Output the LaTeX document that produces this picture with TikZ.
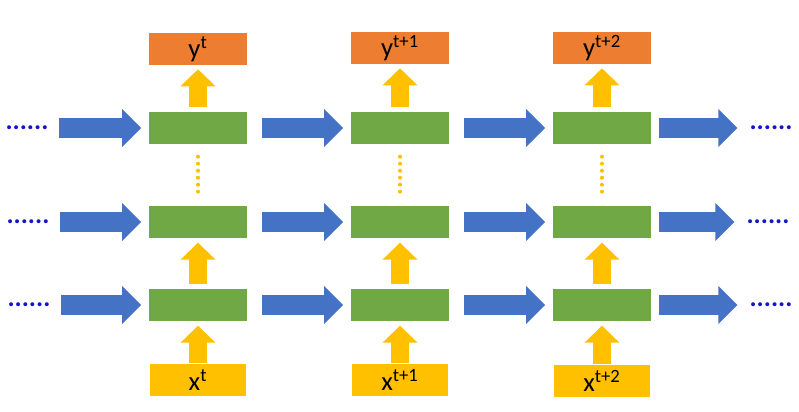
\documentclass[tikz,border=0pt]{standalone}
\usepackage{fontspec}
\setmainfont{Carlito}
\usepackage{tikz}
\usetikzlibrary{arrows.meta, positioning}
\definecolor{cellgreen}{RGB}{112, 168, 70}
\definecolor{outorange}{RGB}{237, 125, 49}
\definecolor{ingold}{RGB}{255, 192, 0}
\definecolor{flowblue}{RGB}{68, 114, 196}
\definecolor{dotblue}{RGB}{20, 20, 200}

\begin{document}
\begin{tikzpicture}[
  x=0.025cm, y=-0.025cm,
  cellbox/.style={fill=cellgreen, minimum width=2.43cm, minimum height=0.82cm, inner sep=0pt},
  outbox/.style={fill=outorange, minimum width=2.43cm, minimum height=0.8cm, inner sep=0pt, font=\fontsize{19}{19}\selectfont},
  inbox/.style={fill=ingold, minimum width=2.38cm, minimum height=0.78cm, inner sep=0pt, font=\fontsize{19}{19}\selectfont},
  dots/.style={text=dotblue, inner sep=0pt, font=\fontsize{19}{19}\selectfont\bfseries},
  flow/.style={draw=flowblue, line width=0.5cm, -{Triangle[length=0.475cm, width=0.925cm]}, shorten <=0.38cm, shorten >=0.2cm},
  lift/.style={draw=ingold, line width=0.45cm, -{Triangle[length=0.425cm, width=0.85cm]}, shorten <=0.1cm, shorten >=0.1cm},
  vdots/.style={draw=ingold, line width=0.1cm, line cap=round, dash pattern=on 0pt off 0.175cm, shorten <=0.3cm, shorten >=0.3cm}
]
  \useasboundingbox (0,0) rectangle (799,412);

  % Outputs
  \node[outbox] (y1) at (198, 49) {y\textsuperscript{t}};
  \node[outbox] (y2) at (400, 48) {y\textsuperscript{t+1}};
  \node[outbox] (y3) at (602, 48) {y\textsuperscript{t+2}};

  % Cells
  \node[cellbox] (c11) at (198, 128) {};
  \node[cellbox] (c21) at (400, 128) {};
  \node[cellbox] (c31) at (602, 128) {};
  \node[cellbox] (c12) at (198, 222) {};
  \node[cellbox] (c22) at (400, 222) {};
  \node[cellbox] (c32) at (602, 222) {};
  \node[cellbox] (c13) at (198, 305) {};
  \node[cellbox] (c23) at (400, 305) {};
  \node[cellbox] (c33) at (602, 305) {};

  % Inputs
  \node[inbox] (x1) at (198, 380) {x\textsuperscript{t}};
  \node[inbox] (x2) at (400, 380) {x\textsuperscript{t+1}};
  \node[inbox] (x3) at (602, 381) {x\textsuperscript{t+2}};

  % Continuation dots
  \node[dots] (l1) at (27, 128) {......};
  \node[dots] (l2) at (28, 222) {......};
  \node[dots] (l3) at (29, 305) {......};
  \node[dots] (r1) at (771, 128) {......};
  \node[dots] (r2) at (768, 222) {......};
  \node[dots] (r3) at (771, 305) {......};

  % Flow along rows
  \draw[flow, shorten <=0.27cm] (l1.east) -- (c11.west);
  \draw[flow] (c11.east) -- (c21.west);
  \draw[flow] (c21.east) -- (c31.west);
  \draw[flow, shorten <=0.2cm, shorten >=0.3cm] (c31.east) -- (r1.west);
  \draw[flow, shorten <=0.27cm] (l2.east) -- (c12.west);
  \draw[flow] (c12.east) -- (c22.west);
  \draw[flow] (c22.east) -- (c32.west);
  \draw[flow, shorten <=0.2cm, shorten >=0.3cm] (c32.east) -- (r2.west);
  \draw[flow, shorten <=0.27cm] (l3.east) -- (c13.west);
  \draw[flow] (c13.east) -- (c23.west);
  \draw[flow] (c23.east) -- (c33.west);
  \draw[flow, shorten <=0.2cm, shorten >=0.3cm] (c33.east) -- (r3.west);

  % Up arrows
  \draw[lift] (c11.north) -- (y1.south);
  \draw[lift] (c21.north) -- (y2.south);
  \draw[lift] (c31.north) -- (y3.south);
  \draw[lift] (c13.north) -- (c12.south);
  \draw[lift] (c23.north) -- (c22.south);
  \draw[lift] (c33.north) -- (c32.south);
  \draw[lift, shorten <=0.03cm] (x1.north) -- (c13.south);
  \draw[lift, shorten <=0.03cm] (x2.north) -- (c23.south);
  \draw[lift, shorten <=0.03cm] (x3.north) -- (c33.south);

  % Hidden layers
  \draw[vdots] (c11.south) -- (c12.north);
  \draw[vdots] (c21.south) -- (c22.north);
  \draw[vdots] (c31.south) -- (c32.north);
\end{tikzpicture}
\end{document}
